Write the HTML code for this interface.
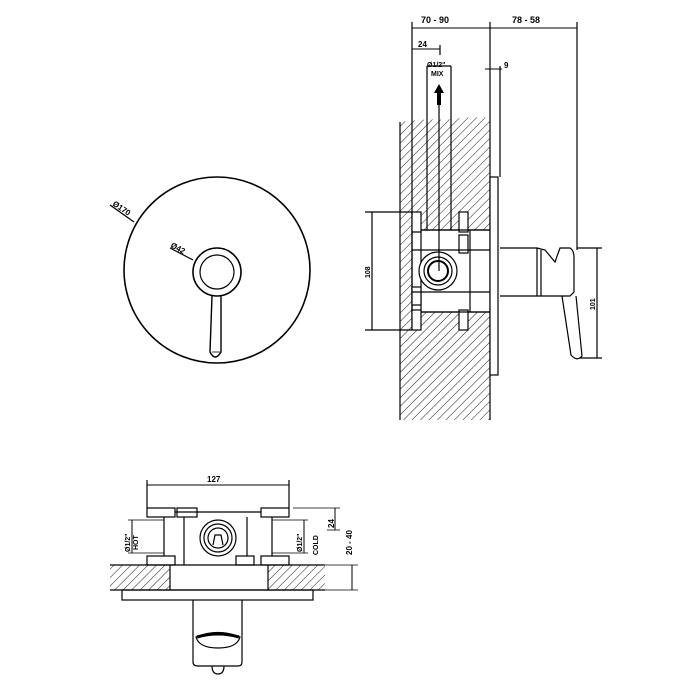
<!DOCTYPE html>
<html><head><style>html,body{margin:0;padding:0;background:#fff}svg{display:block}text{font-family:"Liberation Sans",sans-serif;font-weight:bold;fill:#000}</style></head><body>
<svg width="700" height="700" viewBox="0 0 700 700" xmlns="http://www.w3.org/2000/svg">
<defs>
<pattern id="h" patternUnits="userSpaceOnUse" width="6" height="6" patternTransform="rotate(45)">
<line x1="0" y1="0" x2="0" y2="6" stroke="#000" stroke-width="0.9"/>
</pattern>
</defs>
<g fill="none" stroke="#000" stroke-width="1.2">
<circle cx="217" cy="270" r="93" stroke-width="1.6"/>
<circle cx="217" cy="272" r="24" stroke-width="1.6"/>
<circle cx="217" cy="272" r="17"/>
<path d="M212 296 L210 352 Q215 362 221 352 L221 296" stroke-width="1.4"/>
<line x1="212" y1="352" x2="220" y2="352" stroke-width="0.8"/>
<line x1="110" y1="205" x2="134" y2="222"/>
<line x1="170" y1="248" x2="193" y2="260"/>
</g>
<text x="0" y="0" font-size="8" transform="translate(112,205) rotate(34)">Ø170</text>
<text x="0" y="0" font-size="8" transform="translate(170,247) rotate(28)">Ø42</text>

<path d="M400 122 Q430 118 445 120 Q470 116 490 118 L490 420 L400 420 Z" fill="url(#h)" stroke="none"/>
<g fill="none" stroke="#000" stroke-width="1.2">
<line x1="400" y1="122" x2="400" y2="420"/>
<line x1="490" y1="118" x2="490" y2="420"/>
<rect x="412" y="230" width="78" height="82" fill="#fff"/>
<line x1="412" y1="212" x2="412" y2="330"/>
<line x1="421" y1="230" x2="421" y2="312"/>
<rect x="490" y="177" width="8" height="198" fill="#fff"/>
<rect x="412" y="212" width="9" height="20" fill="#fff"/>
<rect x="459" y="212" width="9" height="20" fill="#fff"/>
<rect x="412" y="310" width="9" height="20" fill="#fff"/>
<rect x="459" y="310" width="9" height="20" fill="#fff"/>
<rect x="459" y="235" width="9" height="18" fill="#fff"/>
<rect x="412" y="287" width="9" height="18" fill="#fff"/>
<line x1="421" y1="230" x2="490" y2="230"/>
<line x1="421" y1="312" x2="490" y2="312"/>
<line x1="412" y1="250" x2="490" y2="250"/>
<line x1="412" y1="292" x2="490" y2="292"/>
<line x1="470" y1="230" x2="470" y2="312"/>
<circle cx="438" cy="271" r="19" fill="#fff"/>
<circle cx="438" cy="271" r="14"/>
<circle cx="438" cy="271" r="10" stroke-width="2"/>
<line x1="427" y1="66" x2="427" y2="230"/>
<line x1="451" y1="66" x2="451" y2="230"/>
<line x1="439" y1="100" x2="439" y2="271"/>
<path d="M500 248 L537 248 L537 296 L500 296" />
<path d="M537 248 L545 250 L555 262 L560 248 L570 248 Q574 250 574 258 L574 292 L570 296 L537 296"/>
<line x1="541" y1="250" x2="541" y2="296"/>
<path d="M562 296 L571 355 Q577 362 582 356 L576 296"/>
<line x1="412" y1="28" x2="577" y2="28" stroke-width="1"/>
<line x1="412" y1="22" x2="412" y2="215"/>
<line x1="490" y1="22" x2="490" y2="118"/>
<line x1="577" y1="22" x2="577" y2="250"/>
<line x1="412" y1="49" x2="440" y2="49" stroke-width="1"/>
<line x1="440" y1="45" x2="440" y2="55"/>
<line x1="485" y1="69" x2="502" y2="69" stroke-width="1"/>
<line x1="500" y1="66" x2="500" y2="177"/>
<line x1="427" y1="66" x2="451" y2="66"/>
<line x1="372" y1="212" x2="372" y2="330"/>
<line x1="365" y1="212" x2="412" y2="212"/>
<line x1="365" y1="330" x2="412" y2="330"/>
<line x1="597" y1="248" x2="597" y2="358"/>
<line x1="577" y1="248" x2="602" y2="248"/>
<line x1="580" y1="358" x2="602" y2="358"/>
</g>
<path d="M439 84 L434 93 L437 93 L437 105 L441 105 L441 93 L444 93 Z" fill="#000"/>
<text x="421" y="23" font-size="9">70 - 90</text>
<text x="512" y="23" font-size="9">78 - 58</text>
<text x="418" y="47" font-size="8">24</text>
<text x="504" y="68" font-size="8">9</text>
<text x="427" y="67" font-size="7">Ø1/2"</text>
<text x="431" y="76" font-size="7">MIX</text>
<text font-size="7" transform="translate(370,278) rotate(-90)">108</text>
<text font-size="7" transform="translate(595,310) rotate(-90)">101</text>

<path d="M110 565 L170 565 L170 590 L110 590 Z M268 565 L325 565 L325 590 L268 590 Z" fill="url(#h)" stroke="none"/>
<g fill="none" stroke="#000" stroke-width="1.2">
<line x1="147" y1="485" x2="289" y2="485" stroke-width="1"/>
<line x1="147" y1="480" x2="147" y2="508"/>
<line x1="289" y1="480" x2="289" y2="508"/>
<rect x="147" y="508" width="28" height="9"/>
<rect x="261" y="508" width="28" height="9"/>
<rect x="147" y="556" width="28" height="9"/>
<rect x="261" y="556" width="28" height="9"/>
<rect x="236" y="556" width="18" height="9"/>
<rect x="177" y="508" width="20" height="9"/>
<line x1="164" y1="517" x2="164" y2="556"/>
<line x1="272" y1="517" x2="272" y2="556"/>
<line x1="184" y1="517" x2="184" y2="565"/>
<line x1="247" y1="517" x2="247" y2="556"/>
<line x1="175" y1="512" x2="261" y2="512"/>
<circle cx="218" cy="538" r="18"/>
<circle cx="218" cy="538" r="14"/>
<circle cx="218" cy="538" r="10"/>
<path d="M213 545 L215 535 L221 535 L223 545"/>
<line x1="110" y1="565" x2="325" y2="565"/>
<line x1="110" y1="590" x2="325" y2="590"/>
<line x1="170" y1="565" x2="170" y2="590"/>
<line x1="268" y1="565" x2="268" y2="590"/>
<rect x="122" y="590" width="191" height="10"/>
<path d="M193 600 L193 662 Q193 666 198 666 L238 666 Q242 666 242 662 L242 600"/>
<path d="M196 637 Q218 628 240 637 Q237 648 218 648 Q199 648 196 637 Z" stroke-width="1.2"/>
<path d="M197 637 Q218 631 239 637" stroke-width="3"/>
<path d="M212 666 Q212 674 218 674 Q224 674 224 666"/>
<line x1="132" y1="520" x2="132" y2="553" stroke-width="1"/>
<line x1="128" y1="520" x2="164" y2="520" stroke-width="0.8"/>
<line x1="128" y1="553" x2="164" y2="553" stroke-width="0.8"/>
<line x1="304" y1="520" x2="304" y2="553" stroke-width="1"/>
<line x1="272" y1="520" x2="308" y2="520" stroke-width="0.8"/>
<line x1="272" y1="553" x2="308" y2="553" stroke-width="0.8"/>
<line x1="335" y1="508" x2="335" y2="530" stroke-width="1"/>
<line x1="293" y1="508" x2="340" y2="508" stroke-width="0.8"/>
<line x1="327" y1="530" x2="340" y2="530" stroke-width="0.8"/>
<line x1="352" y1="565" x2="352" y2="590" stroke-width="1"/>
<line x1="325" y1="565" x2="358" y2="565" stroke-width="0.8"/>
<line x1="325" y1="590" x2="358" y2="590" stroke-width="0.8"/>
</g>
<text x="207" y="482" font-size="8">127</text>
<text font-size="7" transform="translate(130,552) rotate(-90)">Ø1/2"</text>
<text font-size="7" transform="translate(138,550) rotate(-90)">HOT</text>
<text font-size="7" transform="translate(302,552) rotate(-90)">Ø1/2"</text>
<text font-size="7" transform="translate(318,555) rotate(-90)">COLD</text>
<text font-size="8" transform="translate(334,528) rotate(-90)">24</text>
<text font-size="8" transform="translate(352,555) rotate(-90)">20 - 40</text>
</svg>
</body></html>
